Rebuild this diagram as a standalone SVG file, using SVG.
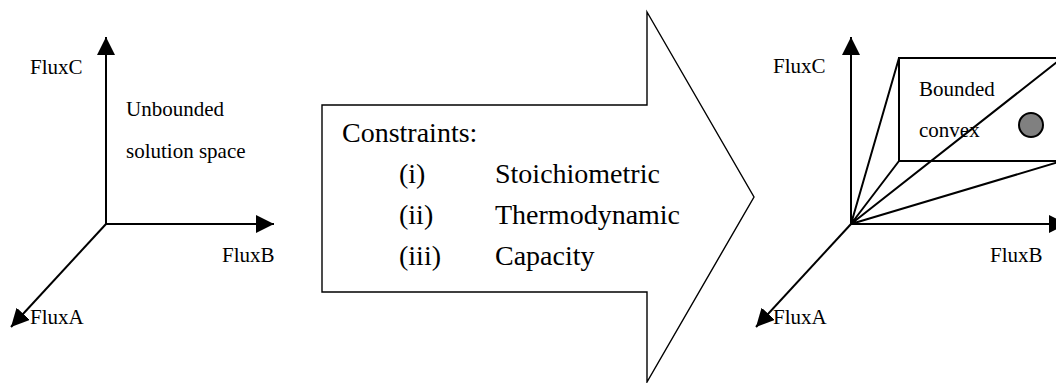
<svg xmlns="http://www.w3.org/2000/svg" width="1056" height="383" viewBox="0 0 1056 383">
<style>
text{font-family:'Liberation Serif','DejaVu Serif',serif;fill:#000}
.s{font-size:21px}
.b{font-size:28px}
.ax{stroke:#000;stroke-width:2;fill:none;marker-end:url(#ah)}
.ln{stroke:#000;stroke-width:2;fill:none}
</style>
<defs>
<marker id="ah" markerUnits="userSpaceOnUse" markerWidth="18" markerHeight="18" viewBox="0 0 16 16" refX="16" refY="8" orient="auto">
<path d="M0,0 L16,8 L0,16 Z" fill="#000"/>
</marker>
</defs>
<rect width="1056" height="383" fill="#fff"/>
<g id="connectors">
<path class="ax" d="M106,224 L106,37"/>
<path class="ax" d="M106,224 L274,224"/>
<path class="ax" d="M106,224 L11,327"/>
<path class="ax" d="M851,224 L851,37"/>
<path class="ax" d="M851,224 L1067,224"/>
<path class="ax" d="M851,224 L756,327"/>
</g>
<g id="left-axes" font-family="Liberation Serif, serif">
<text class="s" x="30" y="74">FluxC</text>
<text class="s" x="126" y="116">Unbounded</text>
<text class="s" x="126" y="158">solution space</text>
<text class="s" x="222" y="262">FluxB</text>
<text class="s" x="30" y="324">FluxA</text>
</g>
<g id="constraints-arrow">
<path d="M322,105 L647,105 L647,12 L754,197 L647,382 L647,292 L322,292 Z" fill="#fff" stroke="#000" stroke-width="1.4"/>
<text class="b" x="342" y="142">Constraints:</text>
<text class="b" x="399" y="183">(i)</text>
<text class="b" x="495" y="183">Stoichiometric</text>
<text class="b" x="399" y="224">(ii)</text>
<text class="b" x="495" y="224">Thermodynamic</text>
<text class="b" x="399" y="265">(iii)</text>
<text class="b" x="495" y="265">Capacity</text>
</g>
<g id="right-axes">
<rect class="ln" x="899" y="58" width="163" height="103"/>
<path class="ln" d="M851,224 L899,58 M851,224 L899,161 M851,224 L1062,58 M851,224 L1062,161"/>
<circle cx="1031" cy="125" r="12" fill="#808080" stroke="#000" stroke-width="2"/>
<text class="s" x="773" y="73">FluxC</text>
<text class="s" x="919" y="96">Bounded</text>
<text class="s" x="919" y="137">convex</text>
<text class="s" x="990" y="262">FluxB</text>
<text class="s" x="773" y="324">FluxA</text>
</g>
</svg>
